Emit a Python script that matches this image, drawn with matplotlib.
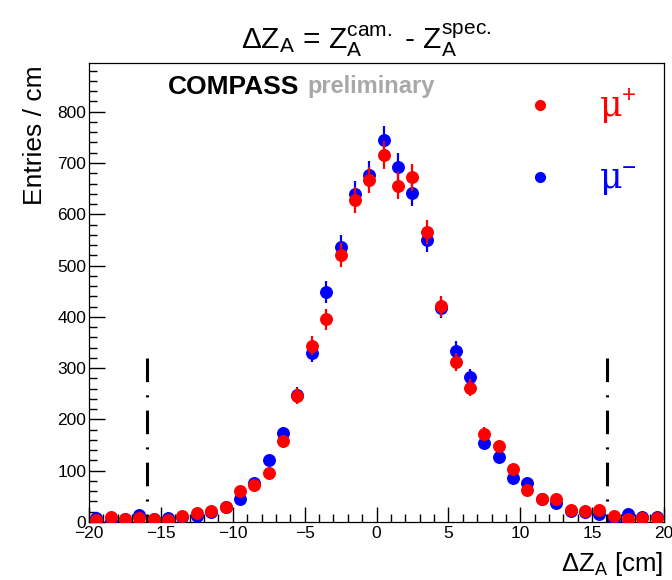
import numpy as np
import matplotlib
matplotlib.use("Agg")
import matplotlib.pyplot as plt
from matplotlib.ticker import MultipleLocator
from matplotlib.lines import Line2D

plt.rcParams["font.family"] = ["Liberation Sans", "DejaVu Sans"]
plt.rcParams["mathtext.fontset"] = "custom"
plt.rcParams["mathtext.rm"] = "Liberation Sans"
plt.rcParams["mathtext.it"] = "Liberation Sans"
plt.rcParams["mathtext.bf"] = "Liberation Sans:bold"
plt.rcParams["lines.scale_dashes"] = False

# 1 cm bins from -20 to 20
bin_centers = np.arange(-19.5, 20.0, 1.0)
mu_plus = [4, 9, 6, 7, 6, 3, 11, 18, 22, 30,
           61, 72, 95, 157, 246, 344, 395, 521, 628, 667,
           716, 656, 672, 566, 421, 312, 262, 172, 148, 103,
           62, 45, 45, 23, 21, 23, 12, 6, 8, 8]
mu_minus = [7, 1, 6, 14, 5, 8, 10, 11, 19, 30,
            44, 77, 120, 173, 248, 330, 449, 537, 640, 677,
            744, 693, 641, 549, 418, 334, 282, 155, 127, 86,
            77, 44, 37, 22, 20, 15, 6, 15, 9, 9]
cut_positions = [-16, 16]
cut_height = 320

fig = plt.figure(figsize=(6.72, 5.8), dpi=100)
ax = fig.add_axes([89 / 672, 1 - 522 / 580, (664 - 89) / 672, (522 - 63) / 580])

ax.errorbar(bin_centers, mu_minus, yerr=np.sqrt(mu_minus), fmt="o", color="blue",
            ms=8.3, elinewidth=1.6, capsize=0, zorder=3)
ax.errorbar(bin_centers, mu_plus, yerr=np.sqrt(mu_plus), fmt="o", color="red",
            ms=8.3, elinewidth=1.6, capsize=0, zorder=4)

for c in cut_positions:
    ax.plot([c, c], [cut_height, 0], color="black", lw=2.2,
            dashes=(17, 9.5, 1.5, 9.5), zorder=2)

ax.set_xlim(-20, 20)
ax.set_ylim(0, 895)
ax.xaxis.set_major_locator(MultipleLocator(5))
ax.xaxis.set_minor_locator(MultipleLocator(1))
ax.yaxis.set_major_locator(MultipleLocator(100))
ax.yaxis.set_minor_locator(MultipleLocator(20))
ax.tick_params(which="both", direction="in", top=False, right=False,
               width=1, labelsize=12.5, colors="black")
ax.tick_params(axis="y", which="major", length=11.5, pad=2)
ax.tick_params(axis="y", which="minor", length=6)
ax.tick_params(axis="x", which="major", length=10.5, pad=3)
ax.tick_params(axis="x", which="minor", length=5.5)
for s in ax.spines.values():
    s.set_linewidth(0.9)

fig.text(366 / 672, 1 - 40 / 580,
         r"$\Delta\mathrm{Z}_{\mathrm{A}}$ = $\mathrm{Z}_{\mathrm{A}}^{\mathrm{cam.}}$ - $\mathrm{Z}_{\mathrm{A}}^{\mathrm{spec.}}$",
         fontsize=21.5, ha="center", va="center")
fig.text(35 / 672, 1 - 65 / 580, "Entries / cm", rotation=90,
         fontsize=19, ha="center", va="top")
fig.text(663 / 672, 2 / 580, r"$\Delta\mathrm{Z}_{\mathrm{A}}$ [cm]",
         fontsize=18.5, ha="right", va="bottom")

fig.text(168 / 672, 1 - 87 / 580, "COMPASS", fontsize=19, weight="bold",
         color="black", ha="left", va="center")
fig.text(307 / 672, 1 - 87 / 580, "preliminary", fontsize=17, weight="bold",
         color="#a8a8a8", ha="left", va="center")

handles = [Line2D([], [], ls="none", marker="o", color="red", ms=7),
           Line2D([], [], ls="none", marker="o", color="blue", ms=7)]
labels = [r"μ$^{+}$", r"μ$^{-}$"]
leg = ax.legend(handles, labels, loc="upper left", bbox_to_anchor=(0.70, 1.015),
                frameon=False, prop={"family": "DejaVu Serif", "size": 25},
                handlelength=1.0, handletextpad=1.2, labelspacing=1.05,
                labelcolor="linecolor")

fig.savefig("out.png", dpi=100)
